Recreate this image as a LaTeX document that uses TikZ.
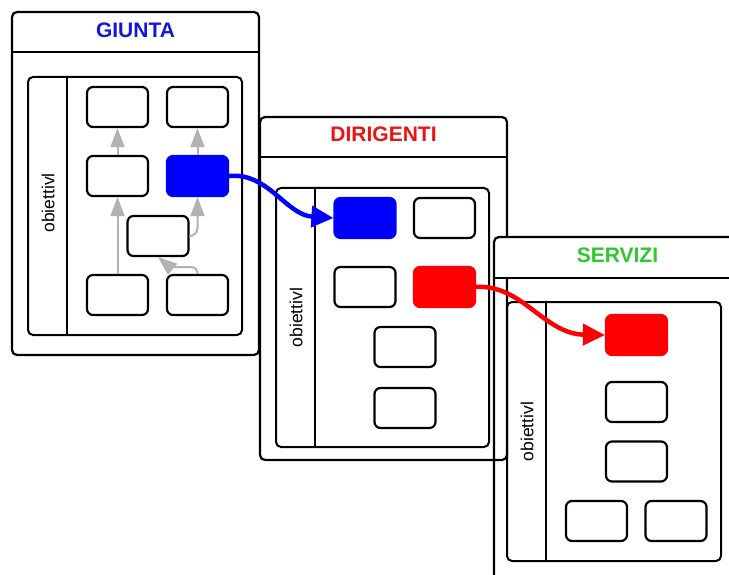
\documentclass[tikz,border=0pt]{standalone}
\usepackage{fontspec}
\setmainfont{Liberation Sans}
\usetikzlibrary{arrows.meta,calc}

\definecolor{boxblue}{RGB}{0,0,255}
\definecolor{titleblue}{RGB}{20,20,225}
\definecolor{boxred}{RGB}{255,0,0}
\definecolor{titlered}{RGB}{235,20,20}
\definecolor{titlegreen}{RGB}{45,200,45}
\definecolor{linkgray}{RGB}{178,178,178}

\tikzset{
  frame/.style={draw, line width=2.2pt, rounded corners=5pt,
    minimum width=247pt, minimum height=343pt, inner sep=0pt},
  lane/.style={draw, line width=2pt, rounded corners=5pt, inner sep=0pt},
  task/.style={draw, line width=2.2pt, rounded corners=6pt,
    minimum width=61pt, minimum height=40pt, inner sep=0pt},
  bluetask/.style={task, draw=boxblue, fill=boxblue},
  redtask/.style={task, draw=boxred, fill=boxred},
  title/.style={inner sep=0pt, font=\fontsize{21}{24}\selectfont\bfseries},
  lanelabel/.style={rotate=90, inner sep=0pt, font=\fontsize{17.5}{20}\selectfont},
  rule/.style={line width=2.2pt},
  link/.style={draw=linkgray, line width=2pt, -{Triangle[length=19pt,width=14pt]}},
  flow/.style={line width=4.5pt, -{Triangle[length=22pt,width=21pt]}},
}

\begin{document}
\begin{tikzpicture}[x=1pt,y=-1pt]
\useasboundingbox (0,0) rectangle (729,575);
\clip (0,0) rectangle (729,575);

% ---------------- GIUNTA ----------------
\node[frame] (giunta) at (135.5,183.5) {};
\draw[rule] ($(giunta.north west)+(0,41)$) -- ($(giunta.north east)+(0,41)$);
\node[title, text=titleblue] (giuntat) at (135.5,30) {GIUNTA};
\node[lane, minimum width=214pt, minimum height=258pt] (glane) at (135,206) {};
\draw[line width=2pt] ($(glane.north west)+(40,0)$) -- ($(glane.south west)+(40,0)$);
\node[lanelabel] (gobj) at (48,203) {obiettivl};

\node[task] (g11) at (117.5,107) {};
\node[task] (g12) at (197.5,107) {};
\node[task] (g21) at (117.5,176) {};
\node[bluetask] (g22) at (197.5,176) {};
\node[task] (g3) at (158,236) {};
\node[task] (g41) at (117.5,295) {};
\node[task] (g42) at (197.5,295) {};

\draw[link] (g21.north) -- (g11.south);
\draw[link] (g22.north) -- (g12.south);
\draw[link] (g41.north) -- (g21.south);
\draw[link, rounded corners=8pt] (g3.east) -| (g22.south);
\draw[link, rounded corners=6pt] (g42.north) |- ($(g3.south)+(12,10)$) -- (g3.south);

% ---------------- DIRIGENTI ----------------
\node[frame] (dirigenti) at (383.5,288.5) {};
\draw[rule] ($(dirigenti.north west)+(0,41)$) -- ($(dirigenti.north east)+(0,41)$);
\node[title, text=titlered] (dirigentit) at (383.5,134.5) {DIRIGENTI};
\node[lane, minimum width=213pt, minimum height=259pt] (dlane) at (382.5,317.5) {};
\draw[line width=2pt] ($(dlane.north west)+(40,0)$) -- ($(dlane.south west)+(40,0)$);
\node[lanelabel] (dobj) at (296,317.5) {obiettivl};

\node[bluetask] (d11) at (365,218) {};
\node[task] (d12) at (444.5,218) {};
\node[task] (d21) at (365,287) {};
\node[redtask] (d22) at (444.5,287) {};
\node[task] (d3) at (405,347) {};
\node[task] (d4) at (405,408) {};

% ---------------- SERVIZI ----------------
\fill[white] (495,238) rectangle (740,278);
\node[frame] (servizi) at (617.5,408.5) {};
\draw[rule] ($(servizi.north west)+(0,42)$) -- ($(servizi.north east)+(0,42)$);
\node[title, text=titlegreen] (servizit) at (617.5,255.5) {SERVIZI};
\node[lane, minimum width=214pt, minimum height=259pt] (slane) at (614,431.5) {};
\draw[line width=2pt] ($(slane.north west)+(40,0)$) -- ($(slane.south west)+(40,0)$);
\node[lanelabel] (sobj) at (527,431.5) {obiettivl};

\node[redtask] (s1) at (636.5,335) {};
\node[task] (s2) at (636.5,402) {};
\node[task] (s3) at (636.5,461.5) {};
\node[task] (s41) at (596.5,521) {};
\node[task] (s42) at (676,521) {};

% ---------------- flows between levels ----------------
\draw[flow, boxblue] (g22.east) .. controls (268,172) and (286,215) .. (d11.west);
\draw[flow, boxred] (d22.east) .. controls (522,284) and (544,334) .. (s1.west);

\end{tikzpicture}
\end{document}
